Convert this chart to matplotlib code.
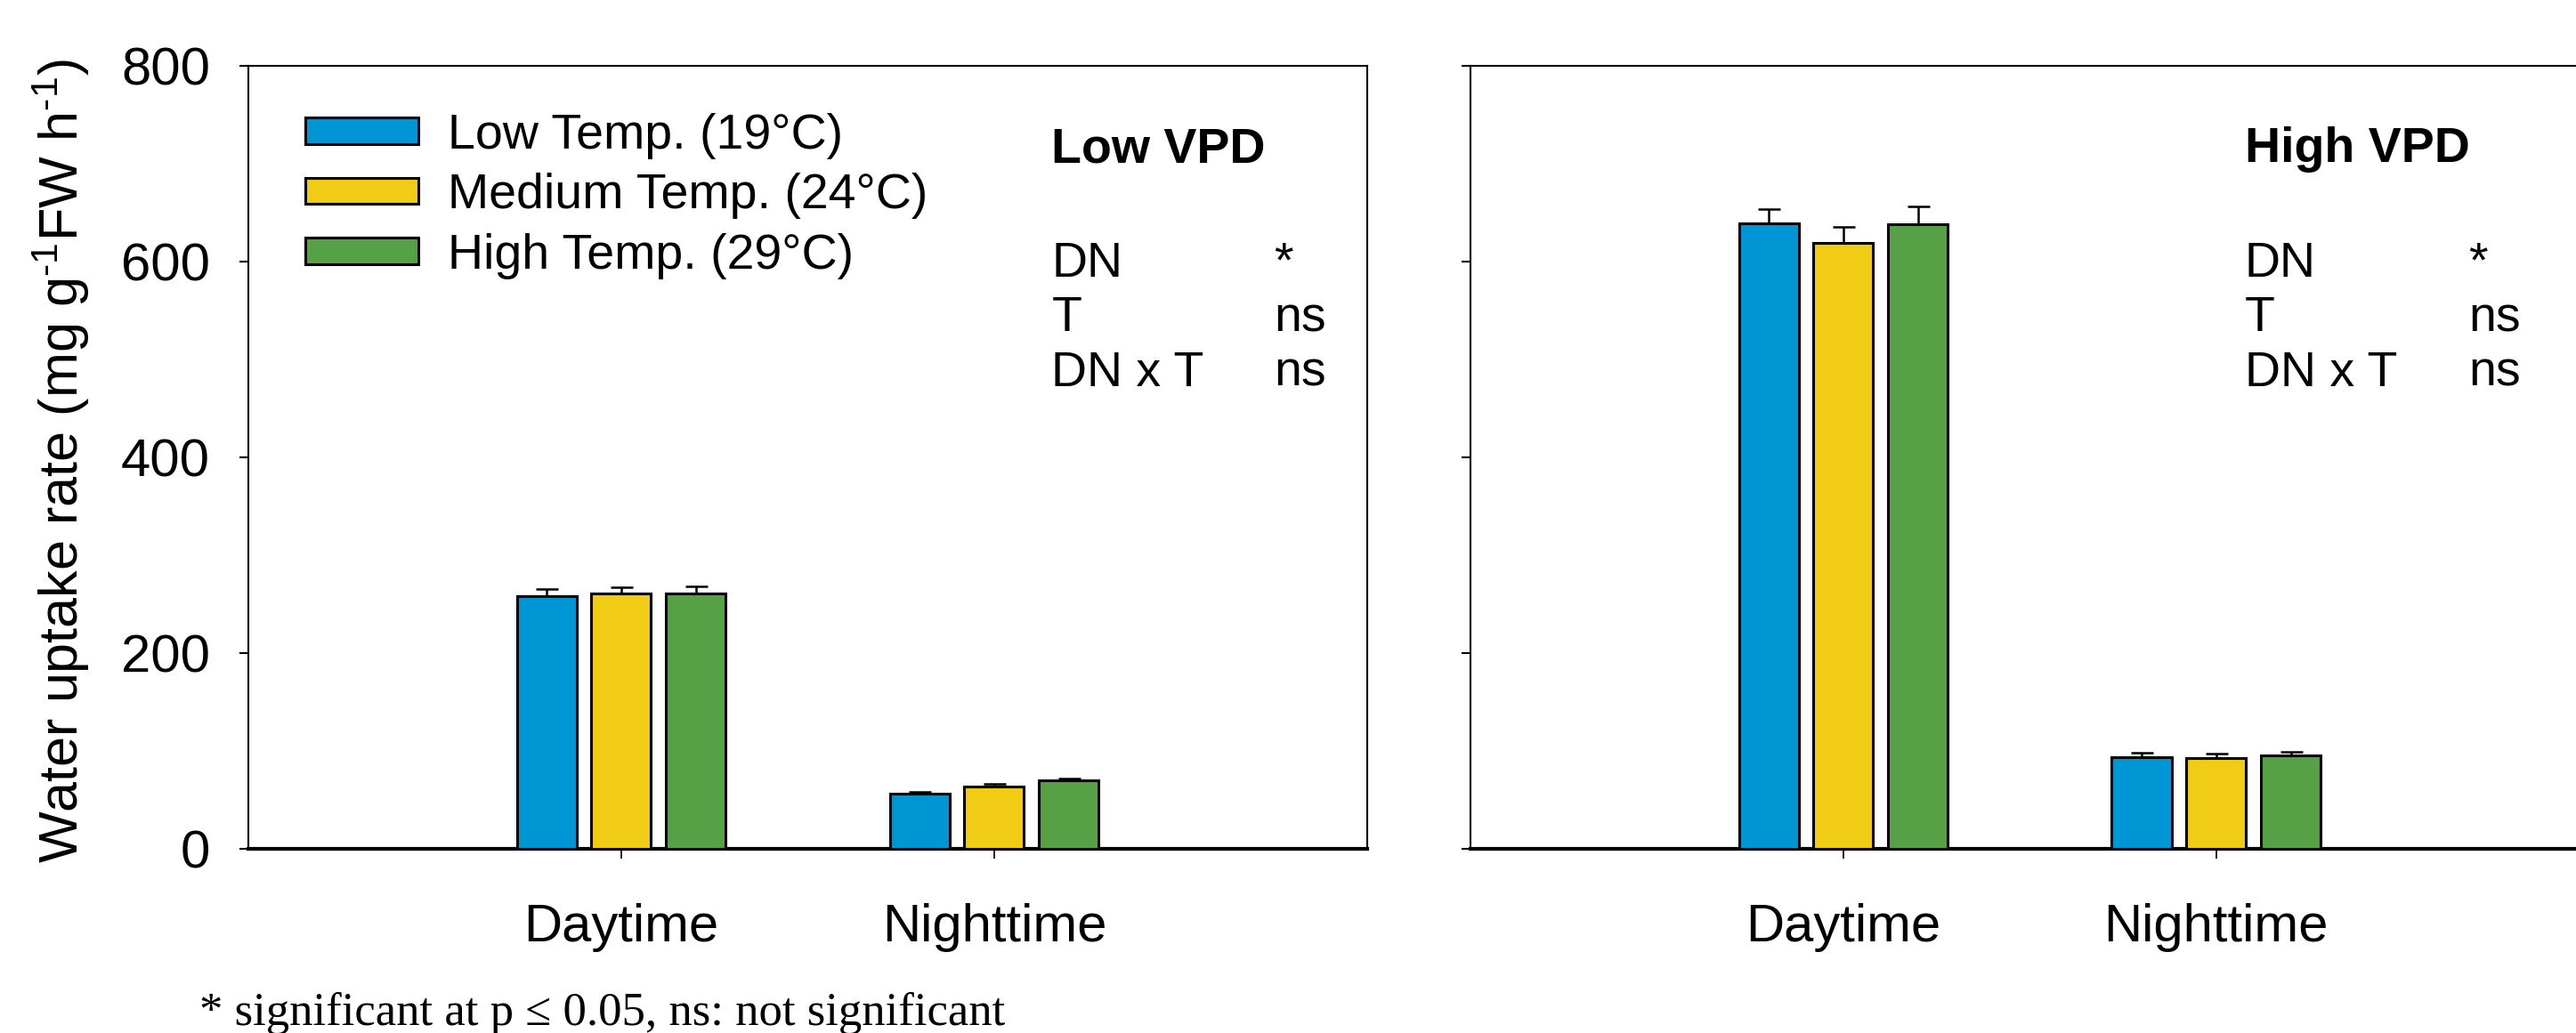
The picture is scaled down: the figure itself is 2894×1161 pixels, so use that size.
import numpy as np
import matplotlib
matplotlib.use("Agg")
from matplotlib import pyplot as plt

plt.rcParams['font.family'] = ['Liberation Sans', 'DejaVu Sans']
plt.rcParams['mathtext.fontset'] = 'custom'
plt.rcParams['mathtext.rm'] = 'Liberation Sans'
plt.rcParams['mathtext.it'] = 'Liberation Sans:italic'

periods = ['Daytime', 'Nighttime']
temps = ['Low Temp. (19°C)', 'Medium Temp. (24°C)', 'High Temp. (29°C)']
colors = ['#0096d6', '#f1cc14', '#56a145']

# water uptake (mg g-1 FW h-1), rows = temperature, cols = day / night
low_vpd = [[258, 56], [261, 64], [261, 70]]
low_vpd_err = [[7, 2], [6, 2], [7, 2]]
high_vpd = [[639, 94], [619, 93], [638, 95]]
high_vpd_err = [[15, 4], [16, 4], [18, 4]]

panels = ['Low VPD', 'High VPD']
stats_rows = ['DN', 'T', 'DN x T']
stats_low = ['*', 'ns', 'ns']
stats_high = ['*', 'ns', 'ns']

fig = plt.figure(figsize=(28.94, 11.61), dpi=100)
ax1 = fig.add_axes([0.0964, 0.1783, 0.4343, 0.7580])
ax2 = fig.add_axes([0.5708, 0.1783, 0.4343, 0.7580])

x = np.arange(1, len(periods) + 1)
w = 0.16
offs = [-0.2, 0.0, 0.2]

def draw(ax, vals, errs):
    bars = []
    for i in range(3):
        b = ax.bar(x + offs[i], vals[i], w, color=colors[i], edgecolor='black',
                   linewidth=2.2, label=temps[i], zorder=3)
        ax.errorbar(x + offs[i], vals[i], yerr=[np.zeros(2), errs[i]], fmt='none',
                    ecolor='black', elinewidth=1.8, capsize=9, capthick=1.8, zorder=2)
        bars.append(b)
    ax.set_xlim(0, 3)
    ax.set_ylim(0, 800)
    ax.set_yticks([0, 200, 400, 600, 800])
    ax.set_xticks(x)
    ax.set_xticklabels(periods)
    ax.tick_params(axis='y', direction='out', length=7, width=1.5, labelsize=43, pad=24)
    ax.tick_params(axis='x', direction='out', length=8, width=1.2, labelsize=43, pad=36)
    for s in ['top', 'left', 'right']:
        ax.spines[s].set_linewidth(1.5)
    ax.spines['bottom'].set_linewidth(3)
    return bars

bars = draw(ax1, low_vpd, low_vpd_err)
draw(ax2, high_vpd, high_vpd_err)
ax2.set_yticklabels([])

ax1.set_ylabel('Water uptake rate (mg g$^{\\text{-1}}$FW h$^{\\text{-1}}$)', fontsize=44)
ax1.yaxis.set_label_coords(-0.14, 0.495)

ax1.legend(handles=bars, loc='upper left', bbox_to_anchor=(0.051, 0.94),
           frameon=False, fontsize=40, handlelength=2.28, handleheight=0.45,
           handletextpad=0.6, labelspacing=0.28, borderpad=0, borderaxespad=0)

ys = [0.747, 0.677, 0.607]
for ax, title, vals, xl, xr in [(ax1, panels[0], stats_low, 0.718, 0.917),
                                (ax2, panels[1], stats_high, 0.692, 0.892)]:
    ax.text(xl, 0.893, title, transform=ax.transAxes, fontsize=40,
            fontweight='bold', va='center', ha='left')
    for y, r, v in zip(ys, stats_rows, vals):
        ax.text(xl, y, r, transform=ax.transAxes, fontsize=40, va='center', ha='left')
        ax.text(xr, y, v, transform=ax.transAxes, fontsize=40, va='center', ha='left')

fig.text(224 / 2894, 9 / 1161, '* significant at p \u2264 0.05, ns: not significant',
         family=['Liberation Serif', 'DejaVu Serif'], fontsize=38, va='baseline', ha='left')

fig.savefig('out.png', dpi=100)
